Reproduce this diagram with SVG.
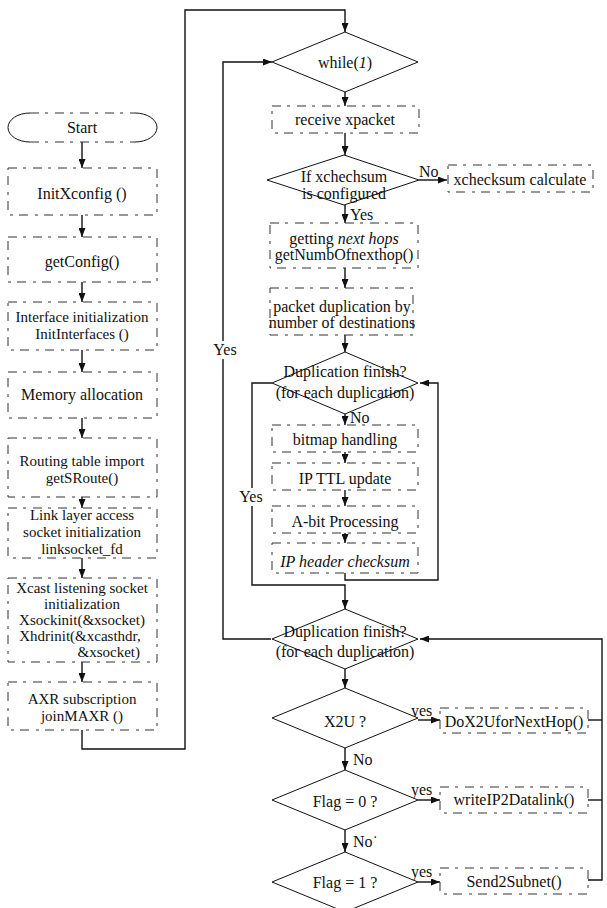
<svg xmlns="http://www.w3.org/2000/svg" width="607" height="908" viewBox="0 0 607 908">
  <style>
    text { font-family: "Liberation Serif", "Times New Roman", serif; font-size: 16px; fill: #111; }
    .c { text-anchor: middle; }
    .s { font-size: 15px; }
    .box { fill: none; stroke: #333; stroke-width: 1; stroke-dasharray: 9 6 3 7; }
    .dia { fill: #fff; stroke: #111; stroke-width: 1; }
    .ln { fill: none; stroke: #111; stroke-width: 1.4; }
    .arr { fill: none; stroke: #111; stroke-width: 1.4; marker-end: url(#ah); }
    .it { font-style: italic; }
  </style>
  <defs>
    <marker id="ah" markerUnits="userSpaceOnUse" markerWidth="9" markerHeight="7" refX="9" refY="3.5" orient="auto">
      <path d="M0,0 L9,3.5 L0,7 z" fill="#111"/>
    </marker>
  </defs>
  <rect width="607" height="908" fill="#fff"/>

  <!-- connectors -->
  <g id="connectors">
    <!-- left column -->
    <line class="arr" x1="82" y1="142" x2="82" y2="168"/>
    <line class="arr" x1="82" y1="215" x2="82" y2="237"/>
    <line class="arr" x1="82" y1="282" x2="82" y2="302"/>
    <line class="arr" x1="82" y1="350" x2="82" y2="372"/>
    <line class="arr" x1="82" y1="418" x2="82" y2="438"/>
    <line class="arr" x1="82" y1="497" x2="82" y2="508"/>
    <line class="arr" x1="82" y1="558" x2="82" y2="578"/>
    <line class="arr" x1="82" y1="662" x2="82" y2="682"/>
    <polyline class="arr" points="82,730 82,749 185,749 185,10 345,10 345,32"/>
    <!-- main loop -->
    <line class="arr" x1="345" y1="92" x2="345" y2="106"/>
    <line class="arr" x1="345" y1="133" x2="345" y2="155"/>
    <line class="arr" x1="419" y1="180" x2="447" y2="180"/>
    <line class="arr" x1="345" y1="205" x2="345" y2="223"/>
    <line class="arr" x1="345" y1="268" x2="345" y2="288"/>
    <line class="arr" x1="345" y1="335" x2="345" y2="352"/>
    <line class="arr" x1="345" y1="414" x2="345" y2="425"/>
    <line class="arr" x1="345" y1="452" x2="345" y2="463"/>
    <line class="arr" x1="345" y1="490" x2="345" y2="506"/>
    <line class="arr" x1="345" y1="533" x2="345" y2="543"/>
    <!-- inner duplication loop -->
    <polyline class="arr" points="345,573 345,580 438,580 438,383 420,383"/>
    <polyline class="ln" points="272,383 252,383 252,488"/>
    <polyline class="arr" points="252,506 252,585 345,585 345,609"/>
    <!-- outer loop back to while(1) -->
    <polyline class="ln" points="271,639 223,639 223,359"/>
    <polyline class="arr" points="223,341 223,62 272,62"/>
    <!-- dispatch chain -->
    <line class="arr" x1="345" y1="669" x2="345" y2="688"/>
    <line class="arr" x1="345" y1="748" x2="345" y2="770"/>
    <line class="arr" x1="345" y1="830" x2="345" y2="852"/>
    <line class="arr" x1="418" y1="720" x2="440" y2="720"/>
    <line class="arr" x1="418" y1="800" x2="440" y2="800"/>
    <line class="arr" x1="418" y1="882" x2="440" y2="882"/>
    <polyline class="ln" points="588,720 602,720"/>
    <polyline class="ln" points="588,800 602,800"/>
    <polyline class="arr" points="588,880 602,880 602,639 420,639"/>
    <!-- branch labels -->
    <text x="419" y="177">No</text>
    <text x="350" y="220">Yes</text>
    <text x="350" y="423">No</text>
    <text class="c" x="225" y="355">Yes</text>
    <text class="c" x="251" y="502">Yes</text>
    <text x="411" y="716">yes</text>
    <text x="353" y="765">No</text>
    <text x="411" y="795">yes</text>
    <text x="353" y="847">No˙</text>
    <text x="411" y="877">yes</text>
  </g>

  <!-- left column nodes -->
  <g id="start">
    <path class="ln" style="stroke-width:1" d="M30,113 A22,14.5 0 0 0 30,142 M135,113 A22,14.5 0 0 1 135,142"/>
    <path class="box" d="M30,113 H135 M30,142 H135"/>
    <text class="c" x="82" y="133">Start</text>
  </g>
  <g id="init-xconfig">
    <rect class="box" x="8" y="168" width="149" height="47"/>
    <text class="c" x="82" y="199">InitXconfig ()</text>
  </g>
  <g id="get-config">
    <rect class="box" x="8" y="237" width="149" height="45"/>
    <text class="c" x="82" y="267">getConfig()</text>
  </g>
  <g id="init-interfaces">
    <rect class="box" x="8" y="302" width="149" height="48"/>
    <text class="c s" x="82" y="322">Interface initialization</text>
    <text class="c s" x="82" y="339">InitInterfaces ()</text>
  </g>
  <g id="memory">
    <rect class="box" x="8" y="372" width="149" height="46"/>
    <text class="c" x="82" y="400">Memory allocation</text>
  </g>
  <g id="routing">
    <rect class="box" x="8" y="438" width="149" height="59"/>
    <text class="c s" x="82" y="466">Routing table import</text>
    <text class="c s" x="82" y="483">getSRoute()</text>
  </g>
  <g id="link-socket">
    <rect class="box" x="8" y="508" width="149" height="50"/>
    <text class="c s" x="82" y="520">Link layer access</text>
    <text class="c s" x="82" y="537">socket initialization</text>
    <text class="c s" x="82" y="554">linksocket_fd</text>
  </g>
  <g id="xcast-socket">
    <rect class="box" x="8" y="578" width="149" height="84"/>
    <text class="c s" x="82" y="593">Xcast listening socket</text>
    <text class="c s" x="82" y="609">initialization</text>
    <text class="c s" x="82" y="625">Xsockinit(&amp;xsocket)</text>
    <text class="c s" x="80" y="641">Xhdrinit(&amp;xcasthdr,</text>
    <text class="s" x="140" y="657" text-anchor="end">&amp;xsocket)</text>
  </g>
  <g id="axr">
    <rect class="box" x="8" y="682" width="149" height="48"/>
    <text class="c s" x="82" y="704">AXR subscription</text>
    <text class="c s" x="82" y="721">joinMAXR ()</text>
  </g>

  <!-- right column nodes -->
  <g id="while">
    <polygon class="dia" points="345,32 418,62 345,92 272,62"/>
    <text class="c" x="345" y="68">while(<tspan class="it">1</tspan>)</text>
  </g>
  <g id="receive">
    <rect class="box" x="272" y="106" width="147" height="27"/>
    <text class="c" x="345" y="125">receive xpacket</text>
  </g>
  <g id="check-config">
    <polygon class="dia" points="344,155 419,180 344,205 267,180"/>
    <text class="c" x="344" y="182">If  xchechsum</text>
    <text class="c" x="344" y="199">is configured</text>
  </g>
  <g id="checksum-calc">
    <rect class="box" x="448" y="165" width="145" height="27"/>
    <text class="c" x="520" y="185">xchecksum calculate</text>
  </g>
  <g id="next-hops">
    <rect class="box" x="270" y="223" width="148" height="45"/>
    <text class="c" x="344" y="244">getting <tspan class="it">next hops</tspan></text>
    <text class="c" x="344" y="260">getNumbOfnexthop()</text>
  </g>
  <g id="duplicate">
    <rect class="box" x="270" y="288" width="143" height="47"/>
    <text class="c" x="342" y="312">packet duplication by</text>
    <text class="c" x="342" y="328">number of destinations</text>
  </g>
  <g id="dup-inner">
    <polygon class="dia" points="345,352 418,383 345,414 272,383"/>
    <text class="c" x="345" y="377">Duplication finish?</text>
    <text class="c" x="345" y="398">(for each duplication)</text>
  </g>
  <g id="bitmap">
    <rect class="box" x="272" y="425" width="146" height="27"/>
    <text class="c" x="345" y="445">bitmap handling</text>
  </g>
  <g id="ttl">
    <rect class="box" x="272" y="463" width="146" height="27"/>
    <text class="c" x="345" y="484">IP TTL update</text>
  </g>
  <g id="abit">
    <rect class="box" x="272" y="506" width="146" height="27"/>
    <text class="c" x="345" y="527">A-bit Processing</text>
  </g>
  <g id="header-checksum">
    <rect class="box" x="272" y="543" width="146" height="30"/>
    <text class="c it" x="345" y="567">IP header checksum</text>
  </g>
  <g id="dup-outer">
    <polygon class="dia" points="345,609 418,639 345,669 272,639"/>
    <text class="c" x="345" y="637">Duplication finish?</text>
    <text class="c" x="345" y="657">(for each duplication)</text>
  </g>
  <g id="x2u">
    <polygon class="dia" points="345,688 418,718 345,748 272,718"/>
    <text class="c" x="345" y="727">X2U ?</text>
  </g>
  <g id="do-x2u">
    <rect class="box" x="440" y="708" width="148" height="25"/>
    <text class="c" x="514" y="727">DoX2UforNextHop()</text>
  </g>
  <g id="flag0">
    <polygon class="dia" points="345,770 418,800 345,830 272,800"/>
    <text class="c" x="345" y="807">Flag = 0 ?</text>
  </g>
  <g id="write-datalink">
    <rect class="box" x="440" y="787" width="148" height="26"/>
    <text class="c" x="514" y="805">writeIP2Datalink()</text>
  </g>
  <g id="flag1">
    <polygon class="dia" points="345,852 418,882 345,912 272,882"/>
    <text class="c" x="345" y="888">Flag = 1 ?</text>
  </g>
  <g id="send-subnet">
    <rect class="box" x="440" y="868" width="148" height="26"/>
    <text class="c" x="514" y="887">Send2Subnet()</text>
  </g>
</svg>
